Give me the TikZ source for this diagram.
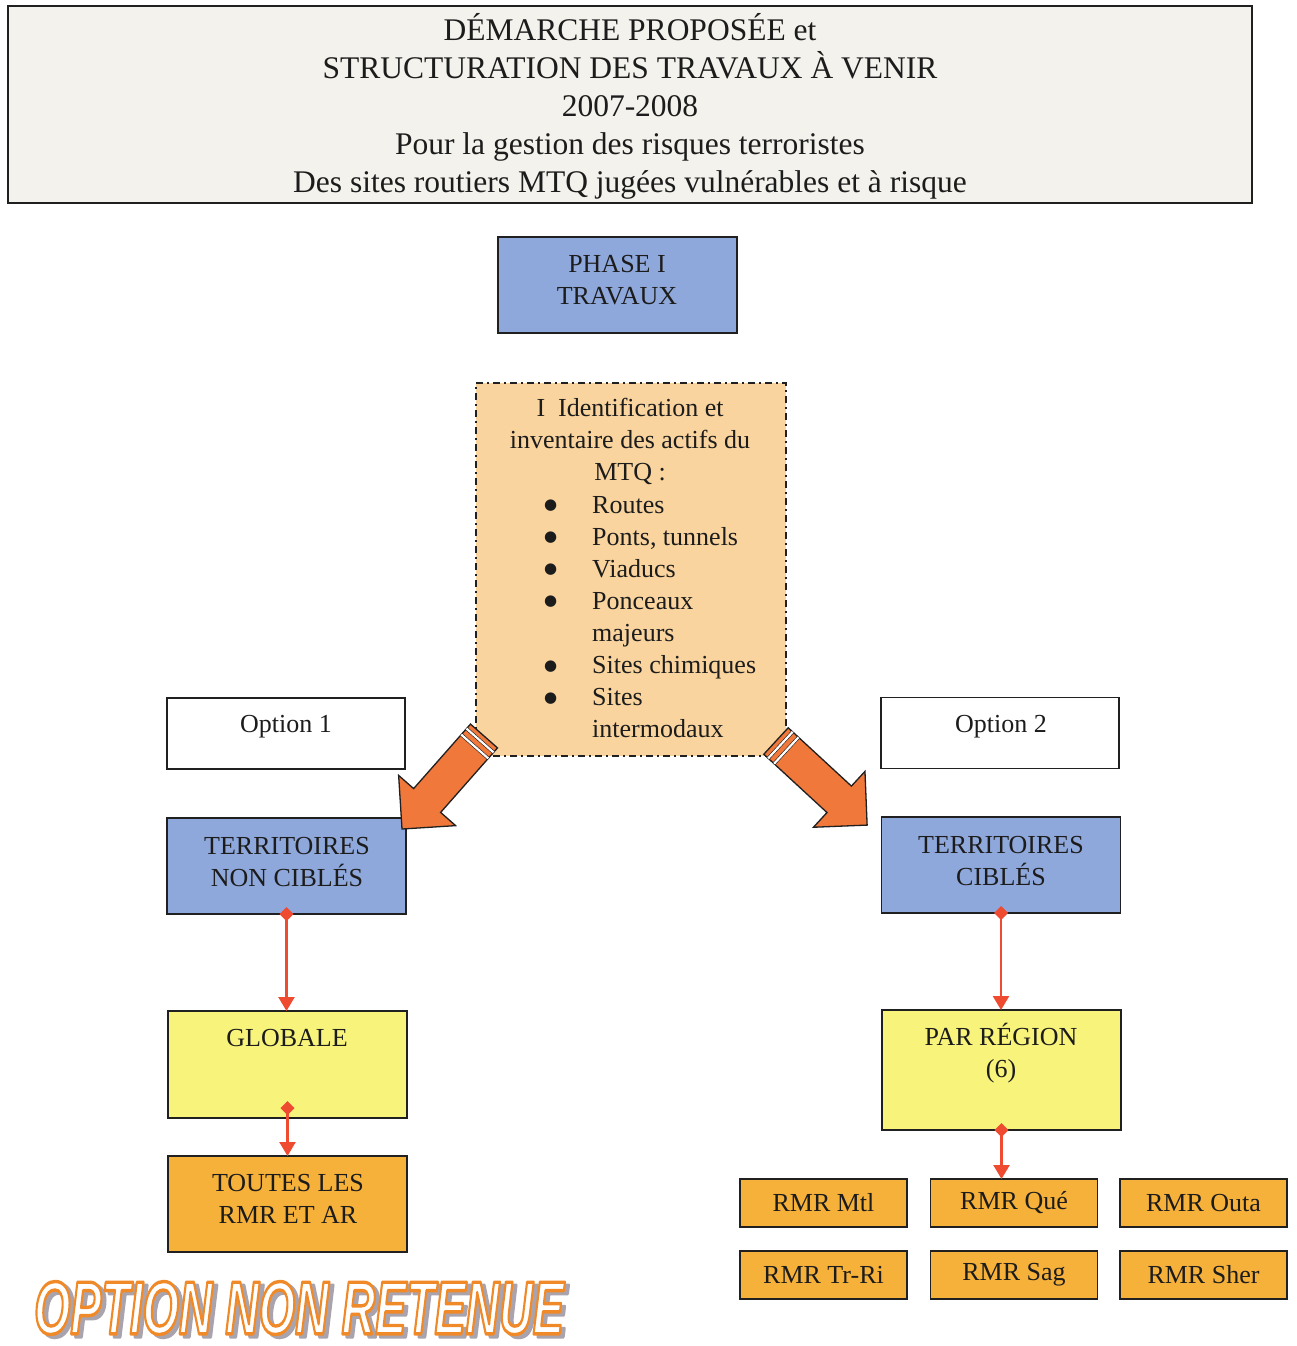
\documentclass[tikz,border=0pt]{standalone}
\usepackage{fontspec}
\usepackage{graphicx}
\setmainfont{Liberation Serif}
\newfontfamily\stampfont{Liberation Sans}
\newfontfamily\symfont{DejaVu Sans}
\usetikzlibrary{arrows.meta,calc}

\definecolor{ink}{HTML}{1C1C1C}
\definecolor{frame}{HTML}{202020}
\definecolor{headfill}{HTML}{F3F2EC}
\definecolor{bluefill}{HTML}{8FA8DC}
\definecolor{invfill}{HTML}{FAD49E}
\definecolor{yellowfill}{HTML}{F8F37A}
\definecolor{orangefill}{HTML}{F6B13A}
\definecolor{arrowfill}{HTML}{F0783A}
\definecolor{linkred}{HTML}{EE4B30}
\definecolor{shadowgray}{HTML}{A9A4AE}

\newcommand\boxfont{\fontsize{26}{32}\selectfont}
\newcommand\titlefont{\fontsize{31.5}{38}\selectfont}
\newcommand\listfont{\fontsize{26}{32.1}\selectfont}
\newcommand\bigbullet{\raisebox{3.5pt}{\symfont\fontsize{15}{15}\selectfont ●}}
% outlined lettering: fill in the current colour, stroke given as rgb
\newcommand\outlined[2]{\special{pdf:literal 2 Tr 3.4 w 1 j #1 RG}#2\special{pdf:literal 0 Tr}}
\newcommand\retenue[1]{\scalebox{0.62}[1]{\stampfont\fontsize{75}{75}\selectfont\bfseries\itshape\outlined{#1}{OPTION NON RETENUE}}}

\begin{document}
\begin{tikzpicture}[x=1pt,y=-1pt,
  box/.style={draw=frame, line width=1.8pt, inner sep=0pt, outer sep=0pt},
  bluebox/.style={box, fill=bluefill, minimum width=239, minimum height=96},
  whitebox/.style={box, fill=white, minimum width=238, minimum height=71},
  yellowbox/.style={box, fill=yellowfill, minimum width=239},
  orangebox/.style={box, fill=orangefill},
  rmrbox/.style={orangebox, minimum width=167, minimum height=48, font=\boxfont, text=ink},
  txt/.style={inner sep=0pt, align=center, font=\boxfont, text=ink},
  link/.style={draw=linkred, line width=2.4pt,
    {Diamond[length=14pt,width=14pt]}-{Triangle[length=14pt,width=16pt]}, shorten <=-7pt},
  stamp/.style={inner sep=0pt},
  blockarrow/.pic={
    \filldraw[fill=arrowfill, draw=frame, line width=1.3pt, line join=miter]
      (0,-18) -- (86,-18) -- (86,-38) -- (124,0) -- (86,38) -- (86,18) -- (0,18) -- cycle;
    \draw[draw=frame, line width=0.6pt, double=white, double distance=2.2pt] (6,-18) -- (6,18);
    \draw[draw=frame, line width=0.6pt, double=white, double distance=2.2pt] (14,-18) -- (14,18);
  }]

% page
\fill[white] (0,0) rectangle (1297,1346);
\useasboundingbox (0,0) rectangle (1297,1346);

% heading
\node[box, fill=headfill, line width=2.4pt, minimum width=1244, minimum height=197] (head) at (630,104.5) {};
\node[txt, font=\titlefont] (title) at (630,106)
  {DÉMARCHE PROPOSÉE et\\STRUCTURATION DES TRAVAUX À VENIR\\2007-2008\\Pour la gestion des risques terroristes\\Des sites routiers MTQ jugées vulnérables et à risque};

% phase
\node[bluebox] (phase) at (617.5,285) {};
\node[txt] (phasetxt) at (617,280) {PHASE I\\TRAVAUX};

% inventory
\node[box, fill=invfill, minimum width=310, minimum height=373,
  dash pattern=on 7pt off 4pt on 2pt off 4pt] (inv) at (631,569.5) {};
\node[txt, anchor=north] (invhead) at (630,398) {I\enspace Identification et\\inventaire des actifs du\\MTQ :};
\node[inner sep=0pt, anchor=north west, font=\listfont, text=ink] (invlist) at (544,490.5)
  {\begin{tabular}{@{}p{48pt}@{}l@{}}
   \bigbullet & Routes\\
   \bigbullet & Ponts, tunnels\\
   \bigbullet & Viaducs\\
   \bigbullet & Ponceaux\\
              & majeurs\\
   \bigbullet & Sites chimiques\\
   \bigbullet & Sites\\
              & intermodaux
   \end{tabular}};

% options
\node[whitebox] (opt1) at (286,733.5) {};
\node[txt] (opt1txt) at (286,727) {Option 1};
\node[whitebox] (opt2) at (1000,733) {};
\node[txt] (opt2txt) at (1001,727) {Option 2};

% territories
\node[bluebox] (tnc) at (286.5,866) {};
\node[txt] (tnctxt) at (287,862) {TERRITOIRES\\NON CIBLÉS};
\node[bluebox] (tc) at (1001,865) {};
\node[txt] (tctxt) at (1001,861) {TERRITOIRES\\CIBLÉS};

% block arrows
\coordinate (ltail) at (484,736);
\coordinate (rtail) at (776,741);
\pic[rotate=228.6] (larrow) at (ltail) {blockarrow};
\pic[rotate=-42.7] (rarrow) at (rtail) {blockarrow};

% scopes
\node[yellowbox, minimum height=107] (glob) at (287.5,1064.5) {};
\node[txt] (globtxt) at (287,1038) {GLOBALE};
\node[yellowbox, minimum height=120] (parreg) at (1001.5,1070) {};
\node[txt] (parregtxt) at (1001,1053) {PAR RÉGION\\(6)};

\node[orangebox, minimum width=239, minimum height=96] (toutes) at (287.5,1204) {};
\node[txt] (toutestxt) at (288,1199) {TOUTES LES\\RMR ET AR};

\node[rmrbox] (rmrmtl)  at (823.5,1203) {RMR Mtl};
\node[rmrbox] (rmrque)  at (1014,1203) {RMR Qué};
\node[rmrbox] (rmrouta) at (1203.5,1203) {RMR Outa};
\node[rmrbox] (rmrtr)   at (823.5,1275) {RMR Tr-Ri};
\node[rmrbox] (rmrsag)  at (1014,1275) {RMR Sag};
\node[rmrbox] (rmrsher) at (1203.5,1275) {RMR Sher};

% links
\draw[link] (tnc.south) -- (tnc.south |- glob.north);
\draw[link, shorten <=-17pt] (glob.south) -- (glob.south |- toutes.north);
\draw[link] (tc.south) -- (tc.south |- parreg.north);
\draw[link] (parreg.south) -- (parreg.south |- rmrque.north);

% stamp: grey drop shadow, then white letters outlined in orange
\coordinate (stampc) at (299,1308);
\node[stamp, text=shadowgray] (stampshadow) at ($(stampc)+(4,3)$) {\retenue{0.66 0.64 0.68}};
\node[stamp, text=white] (stamp) at (stampc) {\retenue{0.94 0.54 0.16}};
\end{tikzpicture}
\end{document}
